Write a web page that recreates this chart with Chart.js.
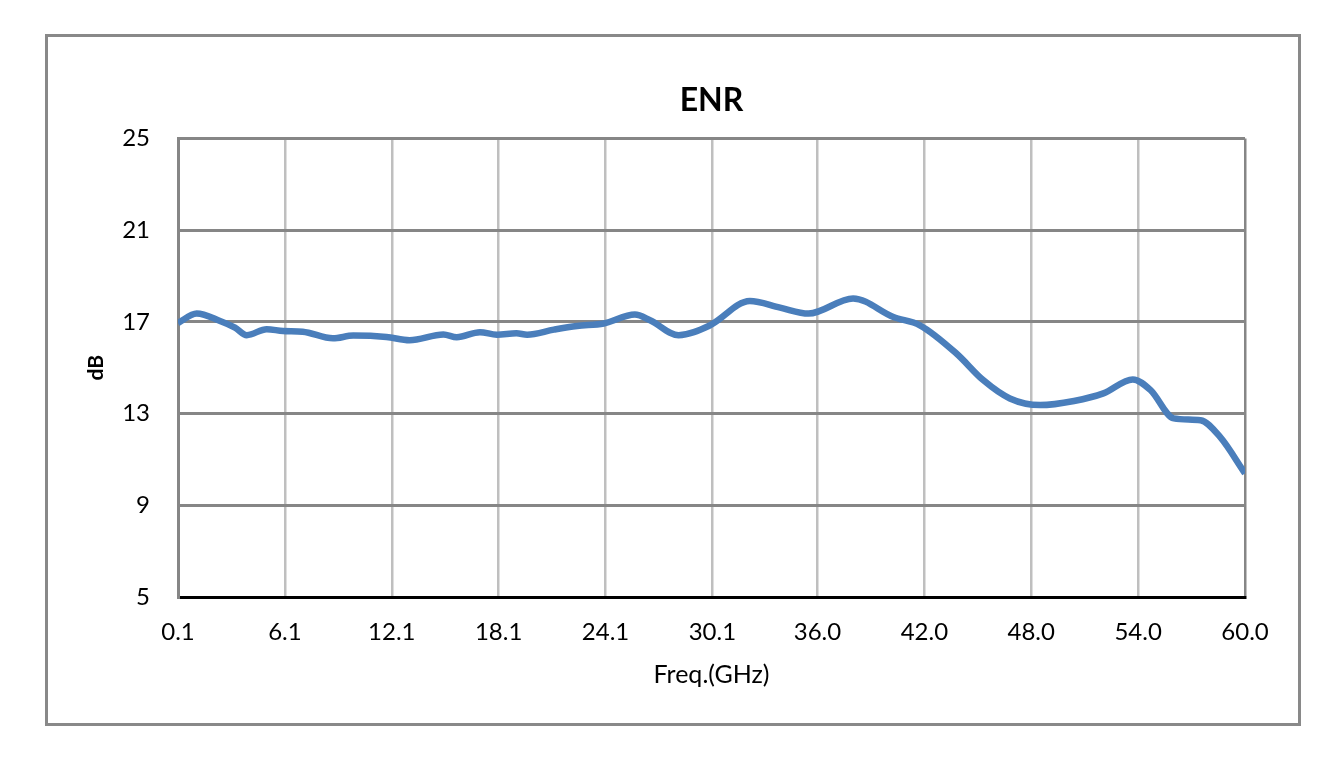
<!DOCTYPE html>
<html>
<head>
<meta charset="utf-8">
<title>ENR</title>
<script src="https://cdn.jsdelivr.net/npm/chart.js@4.4.1/dist/chart.umd.min.js"></script>
<style>
    body { margin: 0; background: #ffffff; }
    #frame {
        position: absolute;
        left: 45px;
        top: 34px;
        width: 1250px;
        height: 686px;
        border: 3px solid #898989;
    }
    #enrChart { position: absolute; left: 0; top: 0; }
</style>
</head>
<body>
<div id="frame"></div>
<canvas id="enrChart" width="1334" height="766"></canvas>
<script>
// frequency points (GHz) and ENR (dB)
const freqGHz = [0.1, 1.15, 2.46, 3.3, 3.96, 5.08, 6.0, 7.1, 8.8, 9.94, 11.8, 13.1, 15.0, 15.75, 17.05, 18.0, 19.1, 19.7,
    21.2, 22.5, 24.0, 25.75, 26.6, 28.2, 29.97, 32.2, 33.9, 35.5, 38.0, 40.26, 41.75, 43.8, 45.3, 46.8, 48.5,
    50.4, 52.05, 53.7, 54.7, 56.0, 57.5, 58.6, 60.0];
const enrDb = [16.95, 17.36, 17.04, 16.75, 16.42, 16.68, 16.6, 16.57, 16.28, 16.4, 16.34, 16.2, 16.45, 16.33, 16.55, 16.44, 16.5, 16.44,
    16.66, 16.82, 16.93, 17.32, 17.07, 16.42, 16.85, 17.91, 17.62, 17.36, 18.02, 17.21, 16.85, 15.62, 14.46, 13.66, 13.37,
    13.55, 13.88, 14.49, 14.02, 12.79, 12.71, 11.98, 10.39];
const xTickLabels = ['0.1', '6.1', '12.1', '18.1', '24.1', '30.1', '36.0', '42.0', '48.0', '54.0', '60.0'];
const yTicks = [5, 9, 13, 17, 21, 25];

const fontFamily = 'Lato, "Open Sans", sans-serif';
const points = freqGHz.map((f, i) => ({ x: f, y: enrDb[i] }));

new Chart(document.getElementById('enrChart'), {
    type: 'line',
    data: {
        datasets: [{
            label: 'ENR',
            data: points,
            borderColor: '#4a7ebb',
            borderWidth: 6.5,
            pointRadius: 0,
            cubicInterpolationMode: 'monotone',
            fill: false
        }]
    },
    options: {
        responsive: false,
        devicePixelRatio: 1,
        animation: false,
        layout: { padding: { top: 81, left: 0, right: 89, bottom: 0 } },
        plugins: {
            legend: { display: false },
            tooltip: { enabled: false },
            title: {
                display: true,
                text: 'ENR',
                fullSize: false, // centre over the plot area like Excel
                color: '#000000',
                font: { family: fontFamily, size: 32, weight: 'bold' },
                padding: { top: 0, bottom: 19 }
            }
        },
        scales: {
            x: {
                type: 'linear',
                min: 0.1,
                max: 60,
                afterBuildTicks: function (scale) {
                    scale.ticks = xTickLabels.map(t => ({ value: parseFloat(t) }));
                },
                afterFit: function (scale) { scale.height = 169; },
                ticks: {
                    color: '#000000',
                    font: { family: fontFamily, size: 24 },
                    padding: 21,
                    maxRotation: 0,
                    autoSkip: false,
                    callback: function (value, index) { return xTickLabels[index]; }
                },
                grid: {
                    drawTicks: false,
                    lineWidth: 2.5,
                    color: function (ctx) {
                        if (ctx.index === 0) return 'rgba(0,0,0,0)';
                        if (ctx.index === xTickLabels.length - 1) return '#868686';
                        return '#bfbfbf';
                    }
                },
                border: { display: true, color: '#000000', width: 3 },
                title: {
                    display: true,
                    text: 'Freq.(GHz)',
                    color: '#000000',
                    font: { family: fontFamily, size: 25 },
                    padding: { top: 0, bottom: 76 }
                }
            },
            y: {
                min: 5,
                max: 25,
                afterBuildTicks: function (scale) {
                    scale.ticks = yTicks.map(v => ({ value: v }));
                },
                afterFit: function (scale) { scale.width = 178; },
                ticks: {
                    color: '#000000',
                    font: { family: fontFamily, size: 24 },
                    padding: 28
                },
                grid: {
                    drawTicks: false,
                    lineWidth: 3,
                    color: function (ctx) {
                        return ctx.tick && ctx.tick.value === 5 ? 'rgba(0,0,0,0)' : '#868686';
                    }
                },
                border: { display: true, color: '#868686', width: 3 },
                title: {
                    display: true,
                    text: 'dB',
                    color: '#000000',
                    font: { family: fontFamily, size: 21, weight: 'bold' },
                    padding: { top: 84, bottom: 0 }
                }
            }
        }
    }
});
</script>
</body>
</html>
